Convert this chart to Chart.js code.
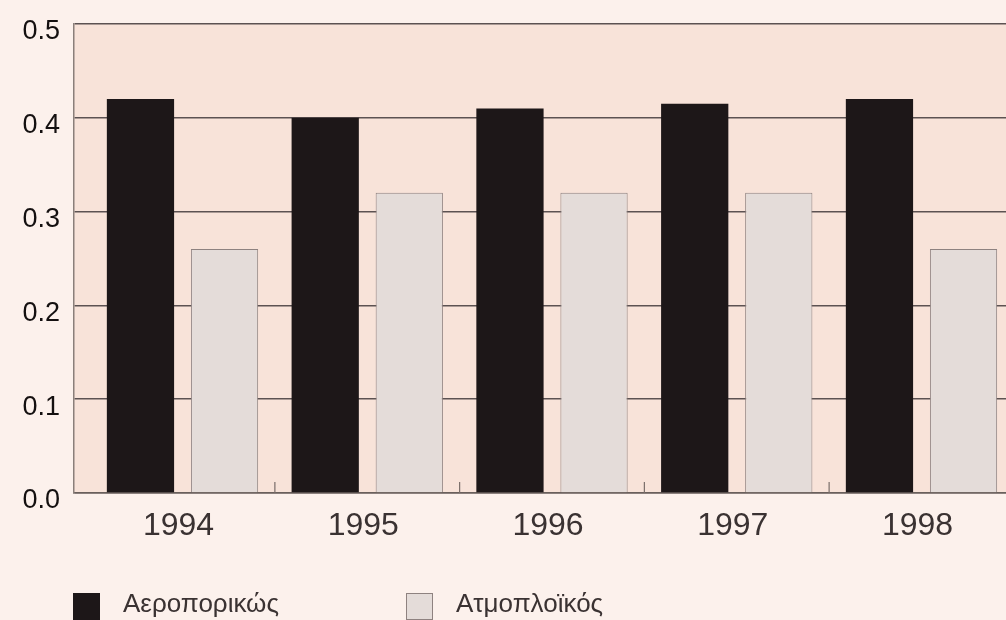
<!DOCTYPE html>
<html>
<head>
<meta charset="utf-8">
<script src="https://cdn.jsdelivr.net/npm/chart.js@4"></script>
<style>
    html, body { margin: 0; padding: 0; background: #fcf1ec; overflow: hidden; }
    #wrap { position: relative; width: 1006px; height: 620px; }
    #legend { position: absolute; left: 73px; top: 590px; display: flex; font-family: 'Liberation Sans', Arial, sans-serif; font-size: 26px; line-height: 26px; color: #3a3232; }
    #legend .item { display: inline-flex; align-items: flex-start; width: 333px; }
    #legend .box { width: 27px; height: 27px; box-sizing: border-box; margin-top: 3px; margin-right: 23px; }
</style>
</head>
<body>
<div id="wrap">
    <canvas id="chart"></canvas>
    <div id="legend"></div>
</div>
<script>
// Data
const years = ['1994', '1995', '1996', '1997', '1998'];
const airValues = [0.42, 0.40, 0.41, 0.415, 0.42];
const seaValues = [0.26, 0.32, 0.32, 0.32, 0.26];
const yTicks = [0, 0.1, 0.2, 0.3, 0.4, 0.5];

const seriesNames = ['Αεροπορικώς', 'Ατμοπλοϊκός'];

// Plot background + small ticks between the year groups
const plotDecor = {
    id: 'plotDecor',
    beforeDraw(chart) {
        const { ctx, chartArea: a } = chart;
        ctx.save();
        ctx.fillStyle = '#f8e3d9';
        ctx.fillRect(a.left, a.top, a.right - a.left, a.bottom - a.top);
        ctx.restore();
    },
    beforeDatasetsDraw(chart) {
        const { ctx, chartArea: a, scales } = chart;
        ctx.save();
        ctx.strokeStyle = '#7a6e6a';
        ctx.lineWidth = 1.2;
        for (let i = 0; i < years.length - 1; i++) {
            const x = scales.x.getPixelForValue(i + 0.5);
            ctx.beginPath();
            ctx.moveTo(x, a.bottom);
            ctx.lineTo(x, a.bottom - 11);
            ctx.stroke();
        }
        ctx.restore();
    }
};

const ctx = document.getElementById('chart').getContext('2d');
const chart = new Chart(ctx, {
    type: 'bar',
    data: {
        datasets: [
            {
                label: seriesNames[0],
                data: airValues.map((v, i) => ({ x: i, y: v })),
                backgroundColor: '#1d1718',
                borderWidth: 0
            },
            {
                label: seriesNames[1],
                data: seaValues.map((v, i) => ({ x: i, y: v })),
                backgroundColor: '#e4dcd9',
                borderColor: '#8e8280',
                borderWidth: 1
            }
        ]
    },
    options: {
        responsive: true,
        maintainAspectRatio: false,
        animation: false,
        categoryPercentage: 0.91,
        barPercentage: 0.8,
        layout: { padding: { top: 24, right: 0, bottom: 0, left: 0 } },
        plugins: {
            legend: { display: false },
            tooltip: { enabled: false }
        },
        scales: {
            x: {
                type: 'linear',
                offset: false,
                min: -0.5873,
                max: 4.4574,
                afterBuildTicks: scale => {
                    scale.ticks = years.map((_, i) => ({ value: i }));
                },
                afterFit: scale => { scale.height = 127; },
                grid: { color: 'transparent', drawTicks: false, offset: false },
                border: { display: true, color: '#6a605c', width: 1.5 },
                ticks: {
                    callback: v => years[v],
                    padding: 14,
                    labelOffset: -4,
                    maxRotation: 0,
                    color: '#3a3232',
                    font: { family: "'Liberation Sans', Arial, sans-serif", size: 32 }
                }
            },
            y: {
                min: 0,
                max: 0.5,
                afterBuildTicks: scale => {
                    scale.ticks = yTicks.map(v => ({ value: v }));
                },
                afterFit: scale => {
                    scale.width = 74;
                    scale.paddingTop = 0;
                    scale.paddingBottom = 0;
                },
                grid: { color: '#5c5252', lineWidth: 1.5, drawTicks: false },
                border: { display: true, color: '#8a7f7a', width: 1.5 },
                ticks: {
                    callback: v => v.toFixed(1),
                    padding: 14,
                    labelOffset: 8,
                    color: '#141010',
                    font: { family: "'Liberation Sans', Arial, sans-serif", size: 27 }
                }
            }
        }
    },
    plugins: [plotDecor]
});

// HTML legend built from the datasets
const legend = document.getElementById('legend');
chart.data.datasets.forEach(ds => {
    const item = document.createElement('span');
    item.className = 'item';
    const box = document.createElement('span');
    box.className = 'box';
    box.style.background = ds.backgroundColor;
    if (ds.borderWidth) box.style.border = `1px solid ${ds.borderColor}`;
    const text = document.createElement('span');
    text.textContent = ds.label;
    item.appendChild(box);
    item.appendChild(text);
    legend.appendChild(item);
});
</script>
</body>
</html>
